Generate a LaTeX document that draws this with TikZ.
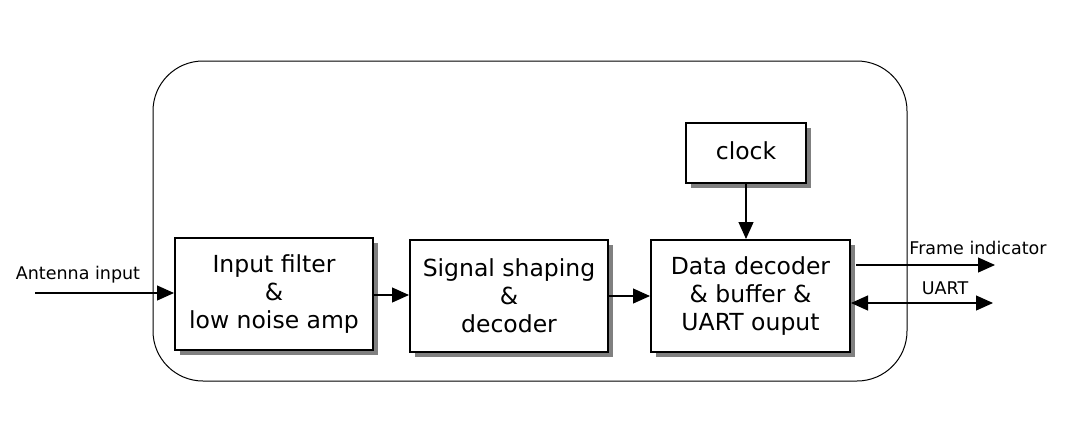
\documentclass[tikz,border=0pt]{standalone}
\usepackage{fontspec}
\setmainfont{DejaVu Sans}
\usetikzlibrary{arrows.meta,shadows}
\begin{document}
\begin{tikzpicture}[x=1pt,y=-1pt,
  blk/.style={draw=black,line width=2pt,fill=white,align=center,inner sep=0pt,
    font=\fontsize{23.5}{28}\selectfont,
    drop shadow={shadow xshift=5pt,shadow yshift=-5pt,fill=black!50,opacity=1}},
  lbl/.style={font=\fontsize{17.5}{20}\selectfont,inner sep=0pt},
  conn/.style={line width=1.1pt,-{Triangle[length=17pt,width=15pt]}},
  conn2/.style={line width=1.1pt,{Triangle[length=17pt,width=15pt]}-{Triangle[length=17pt,width=15pt]}}]
\useasboundingbox (0,0) rectangle (1077,432);
\draw[line width=1pt,rounded corners=50pt] (153,61) rectangle (907,381);
\node[blk,minimum width=198pt,minimum height=112pt] (b1) at (274,294) {Input filter\\\&\\low noise amp};
\node[blk,minimum width=198pt,minimum height=112pt] (b2) at (509,296) {Signal shaping\\\&\\decoder};
\node[blk,minimum width=199pt,minimum height=112pt] (b3) at (750.5,296) {Data decoder\\\& buffer \&\\UART ouput};
\node[blk,minimum width=120pt,minimum height=60pt,text depth=4pt] (clk) at (746,153) {clock};
\coordinate (ant) at (35,293);
\coordinate (fi) at (995,265);
\coordinate (ua) at (993,303);
\draw[conn] (ant) -- (ant -| b1.west);
\draw[conn] (b1.east |- 0,295) -- (b2.west |- 0,295);
\draw[conn] (b2.east |- 0,296) -- (b3.west |- 0,296);
\draw[conn] (clk.south) -- (clk.south |- b3.north);
\draw[conn] ([xshift=5pt]fi -| b3.east) -- (fi);
\draw[conn2] (ua -| b3.east) -- (ua);
\node[lbl] (antl) at (78,275) {Antenna input};
\node[lbl] (fil) at (978,248) {Frame indicator};
\node[lbl] (ual) at (945,288) {UART};
\end{tikzpicture}
\end{document}
